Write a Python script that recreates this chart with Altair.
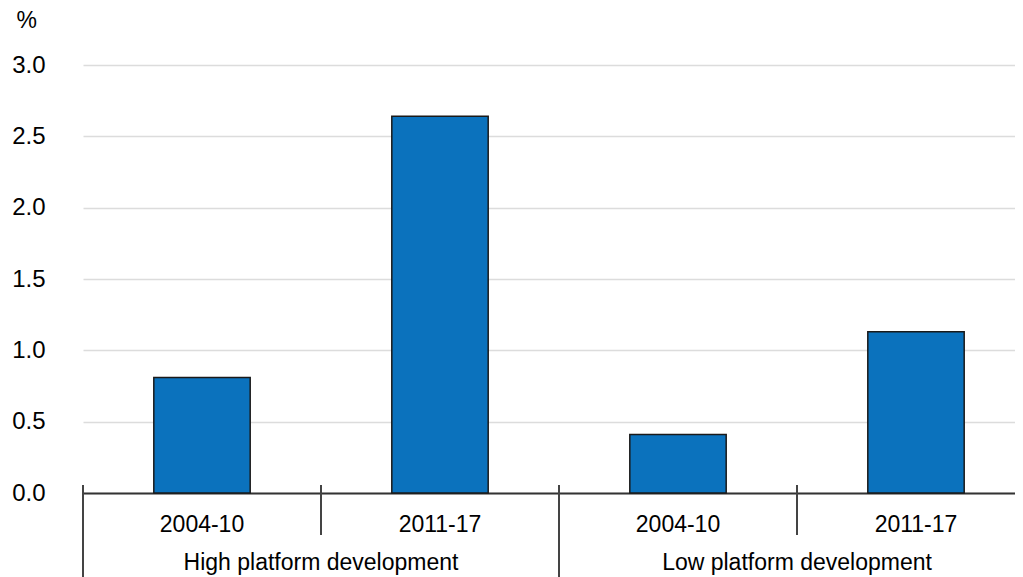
import altair as alt
import pandas as pd

groups = ["High platform development", "High platform development",
          "Low platform development", "Low platform development"]
periods = ["2004-10", "2011-17", "2004-10", "2011-17"]
values = [0.81, 2.64, 0.41, 1.13]
keys = ["H 2004-10", "H 2011-17", "L 2004-10", "L 2011-17"]
y_ticks = [0.0, 0.5, 1.0, 1.5, 2.0, 2.5, 3.0]

df = pd.DataFrame({"key": keys, "group": groups, "period": periods, "value": values})

W, H = 932, 428
FONT = "Liberation Sans"

xscale = alt.Scale(domain=keys, range=[0, 952], paddingInner=0, paddingOuter=0)
yscale = alt.Scale(domain=[0, 3], nice=False)

bars = alt.Chart(df).mark_bar(
    color="#0b72bd", stroke="#1a1a1a", strokeWidth=1.5,
    width=alt.RelativeBandSize(0.405)
).encode(
    x=alt.X("key:N", scale=xscale, sort=keys,
            axis=alt.Axis(labels=False, ticks=False, title=None, domain=True,
                          domainColor="#333333", domainWidth=2, grid=False)),
    y=alt.Y("value:Q", scale=yscale,
            axis=alt.Axis(values=y_ticks, format=".1f", domain=False, ticks=False,
                          labelPadding=38, labelFontSize=24, labelFont=FONT,
                          labelColor="#000000", gridColor="#dcdcdc", gridWidth=1.5,
                          title="%", titleAngle=0, titleAlign="left",
                          titleBaseline="middle", titleX=-67, titleY=-45,
                          titleFontSize=23, titleFontWeight="normal",
                          titleFont=FONT, titleColor="#000000")),
)

period_labels = alt.Chart(df).mark_text(
    fontSize=23, font=FONT, color="#000000", baseline="middle"
).encode(
    x=alt.X("key:N", scale=xscale, sort=keys),
    y=alt.value(460),
    text="period:N",
)

grp_df = df.iloc[[1, 3]]
group_labels = alt.Chart(grp_df).mark_text(
    fontSize=23, font=FONT, color="#000000", baseline="alphabetic"
).encode(
    x=alt.X("key:N", scale=xscale, sort=keys, bandPosition=0),
    y=alt.value(505),
    text="group:N",
)

short_sep = alt.Chart(df.iloc[[1, 3]]).mark_rule(color="#444444", strokeWidth=2).encode(
    x=alt.X("key:N", scale=xscale, sort=keys, bandPosition=0),
    y=alt.value(420), y2=alt.value(470),
)
long_sep = alt.Chart(df.iloc[[0, 2]]).mark_rule(color="#444444", strokeWidth=2).encode(
    x=alt.X("key:N", scale=xscale, sort=keys, bandPosition=0),
    y=alt.value(420), y2=alt.value(520),
)

chart = alt.layer(bars, short_sep, long_sep, period_labels, group_labels).properties(
    width=W, height=H,
    autosize=alt.AutoSizeParams(type="none"),
    padding={"left": 75, "top": 57, "right": 0, "bottom": 84},
).configure_view(stroke=None)

chart.save("out.html", embed_options={"renderer": "svg", "actions": False})
